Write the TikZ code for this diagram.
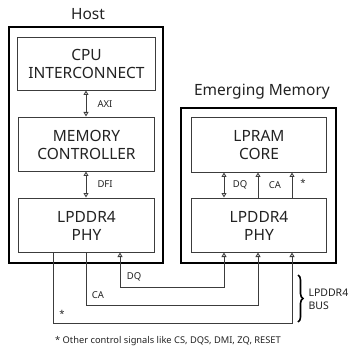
\documentclass[tikz,border=0pt]{standalone}
\usepackage{fontspec}
\setmainfont{Noto Sans}
\usetikzlibrary{arrows.meta,decorations.pathreplacing}
\definecolor{ink}{HTML}{222222}
\definecolor{wire}{HTML}{3C3C3C}
\begin{document}
\begin{tikzpicture}[x=1pt,y=-1pt,
  outerbox/.style={draw=black,line width=2.6pt},
  innerbox/.style={draw=wire,line width=1pt},
  boxtext/.style={text=ink,font=\fontsize{15.5}{18}\selectfont,align=center},
  title/.style={text=ink,font=\fontsize{15.5}{18}\selectfont},
  sig/.style={text=ink,font=\fontsize{9.5}{11}\selectfont},
  wirel/.style={draw=wire,line width=0.9pt},
  bi/.style={wirel,{Triangle[open,length=4.5pt,width=5pt,fill=white]}-{Triangle[open,length=4.5pt,width=5pt,fill=white]}},
  uni/.style={wirel,-{Triangle[open,length=4.5pt,width=5pt,fill=white]}}
]
\useasboundingbox (0,0) rectangle (350,352);

% Host side
\node[title] (hosttitle) at (88,14) {Host};
\draw[outerbox] (9,27) rectangle (163,263);
\node[innerbox,minimum width=138pt,minimum height=53pt,anchor=north west] (cpu) at (17,37) {};
\node[boxtext] at (cpu.center) {CPU\\INTERCONNECT};
\node[innerbox,minimum width=136pt,minimum height=54pt,anchor=north west] (mc) at (18,117) {};
\node[boxtext] at (mc.center) {MEMORY\\CONTROLLER};
\node[innerbox,minimum width=136pt,minimum height=54pt,anchor=north west] (hphy) at (18,198) {};
\node[boxtext] at (hphy.center) {LPDDR4\\PHY};

\draw[bi] (86,90.5) -- (86,116.5);
\node[sig,anchor=west] (axi) at (94,104) {AXI};
\draw[bi] (86,171.5) -- (86,197.5);
\node[sig,anchor=west] (dfi) at (94,184) {DFI};

% Emerging memory side
\node[title] (memtitle) at (262,92) {Emerging Memory};
\draw[outerbox] (181,108) rectangle (336,263);
\node[innerbox,minimum width=135pt,minimum height=55pt,anchor=north west] (core) at (191,117) {};
\node[boxtext] at (core.center) {LPRAM\\CORE};
\node[innerbox,minimum width=135pt,minimum height=54pt,anchor=north west] (mphy) at (191,198) {};
\node[boxtext] at (mphy.center) {LPDDR4\\PHY};

\draw[bi] (224,172.5) -- (224,197.5);
\node[sig] (dqm) at (240,185) {DQ};
\draw[uni] (258,197.5) -- (258,172.5);
\node[sig] (cam) at (275,185) {CA};
\draw[uni] (292,197.5) -- (292,172.5);
\node[sig] (stm) at (303,183) {*};

% LPDDR4 bus
\coordinate (dqh) at (120,252.5);
\coordinate (dqmm) at (224,252.5);
\draw[bi] (dqh) -- (120,287) -- (224,287) -- (dqmm);
\node[sig] (dqb) at (134,277) {DQ};
\draw[uni] (86,252) -- (86,305) -- (258,305) -- (258,252.5);
\node[sig] (cab) at (98,295) {CA};
\draw[uni] (53,252) -- (53,323) -- (292,323) -- (292,252.5);
\node[sig] (stb) at (62,314) {*};

\draw[draw=black,line width=1.6pt,decorate,decoration={brace,amplitude=5pt}] (298,275) -- (298,322);
\node[sig,anchor=west,align=left,font=\fontsize{10.5}{13}\selectfont] (bus) at (305,299) {LPDDR4\\BUS};

\node[text=ink,font=\fontsize{9.3}{11}\selectfont] (note) at (168,341) {* Other control signals like CS, DQS, DMI, ZQ, RESET};
\end{tikzpicture}
\end{document}
